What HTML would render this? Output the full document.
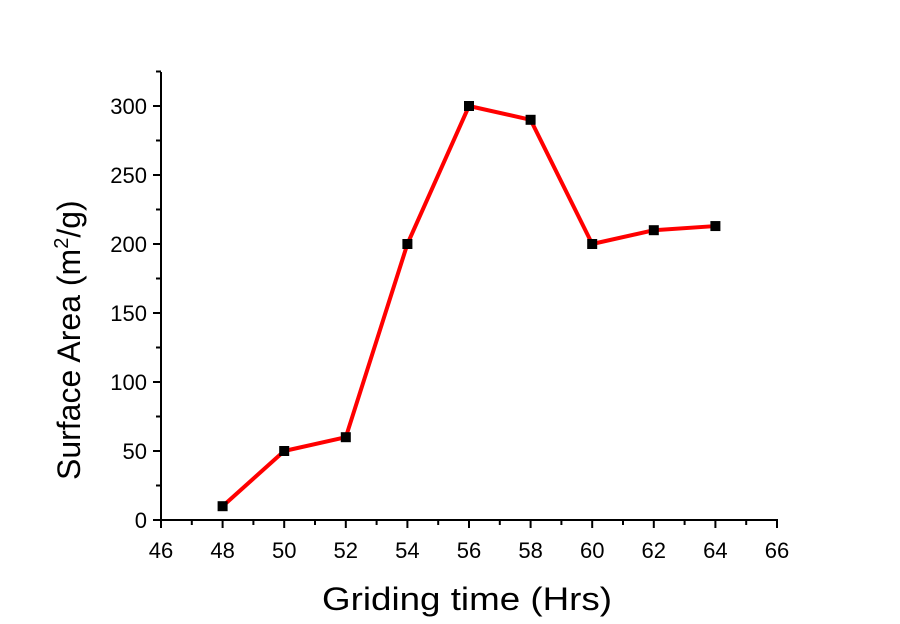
<!DOCTYPE html>
<html><head><meta charset="utf-8"><style>
html,body{margin:0;padding:0;background:#fff}
svg{display:block;font-family:"Liberation Sans",Arial,sans-serif}
</style></head><body>
<svg id="chart" width="900" height="624">
<g id="axes"></g><g id="plot"></g>
<text x="322" y="610" font-size="32" textLength="290" lengthAdjust="spacingAndGlyphs">Griding time (Hrs)</text>
<text transform="translate(80,480) rotate(-90)" font-size="32">Surface Area (m<tspan font-size="20" dy="-12">2</tspan><tspan dy="12">/g)</tspan></text>
</svg>
<script>
const xValues=[48,50,52,54,56,58,60,62,64];
const yValues=[10,50,60,200,300,290,200,210,213];
const xTicks=[46,48,50,52,54,56,58,60,62,64,66];
const yTicks=[0,50,100,150,200,250,300];
const NS="http://www.w3.org/2000/svg";
const X0=161,X1=777,Y0=520,Y300=106,TOP=72;
const sx=v=>X0+(v-46)*(X1-X0)/20;
const sy=v=>Y0-(v)*(Y0-Y300)/300;
function mk(t,a,p){const e=document.createElementNS(NS,t);for(const k in a)e.setAttribute(k,a[k]);p.appendChild(e);return e;}
const axes=document.getElementById('axes'),plot=document.getElementById('plot');
const ya=mk('line',{x1:X0,y1:TOP,x2:X0,y2:Y0+1,stroke:'#000','stroke-width':2},axes);


const xa=mk('line',{x1:X0-1,y1:Y0,x2:X1+1,y2:Y0,stroke:'#000','stroke-width':2},axes);


yTicks.forEach(v=>{const y=sy(v);
 mk('line',{x1:X0-8,y1:y,x2:X0,y2:y,stroke:'#000','stroke-width':2},axes);
 mk('line',{x1:X0-5,y1:sy(v+25),x2:X0,y2:sy(v+25),stroke:'#000','stroke-width':2},axes);
 const t=mk('text',{x:X0-14,y:y+8,'font-size':22,'text-anchor':'end'},axes);t.textContent=v;
 
 
});
xTicks.forEach((v,i)=>{const x=sx(v);
 mk('line',{x1:x,y1:Y0,x2:x,y2:Y0+8,stroke:'#000','stroke-width':2},axes);
 if(i<xTicks.length-1)mk('line',{x1:sx(v+1),y1:Y0,x2:sx(v+1),y2:Y0+5,stroke:'#000','stroke-width':2},axes);
 const t=mk('text',{x:x,y:Y0+38,'font-size':22,'text-anchor':'middle'},axes);t.textContent=v;
 
 
});
const pl=mk('polyline',{points:xValues.map((v,i)=>sx(v)+','+sy(yValues[i])).join(' '),fill:'none',stroke:'#f00','stroke-width':4,'stroke-linejoin':'round'},plot);


xValues.forEach((v,i)=>{const r=mk('rect',{x:sx(v)-5,y:sy(yValues[i])-5,width:10,height:10,fill:'#000'},plot);
 
 
});
</script>
</body></html>
